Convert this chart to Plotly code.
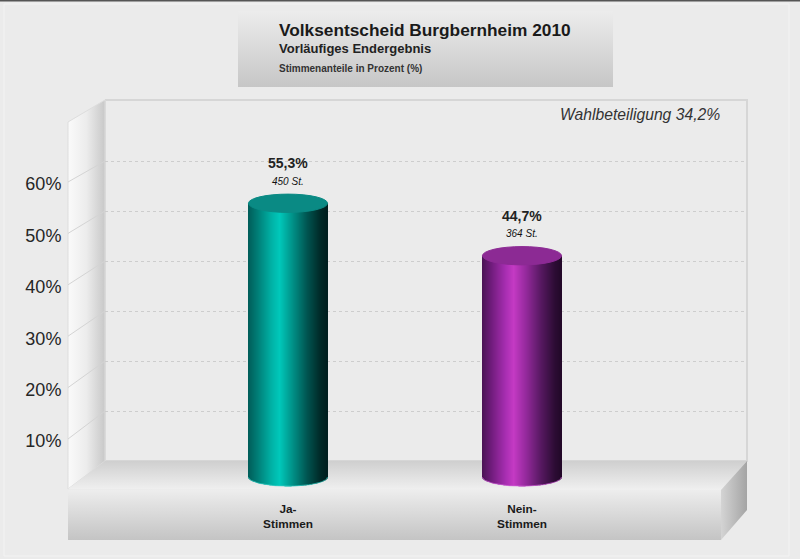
import math
import plotly.graph_objects as go

# data
kategorien = ['Ja-<br>Stimmen', 'Nein-<br>Stimmen']
anteile = [55.3, 44.7]
stimmen = ['450 St.', '364 St.']
anteil_text = ['55,3%', '44,7%']
achse_werte = [10, 20, 30, 40, 50, 60]
achse_text = ['10%', '20%', '30%', '40%', '50%', '60%']

FONT = 'Liberation Sans, Arial, sans-serif'
W, H = 800, 559

# cylinder shading, left to right (position, teal, purple)
verlauf = [
    (0.00, (0, 92, 88), (74, 20, 84)),
    (0.12, (0, 125, 118), (112, 28, 124)),
    (0.30, (0, 178, 166), (168, 46, 178)),
    (0.40, (0, 200, 186), (196, 58, 196)),
    (0.55, (0, 150, 140), (150, 42, 158)),
    (0.75, (0, 84, 80), (86, 24, 96)),
    (0.92, (0, 40, 38), (44, 12, 52)),
    (1.00, (0, 30, 30), (34, 8, 40)),
]


def farbe(t, idx):
    for (t0, *c0), (t1, *c1) in zip(verlauf, verlauf[1:]):
        if t <= t1:
            f = (t - t0) / (t1 - t0)
            rgb = [round(a + (b - a) * f) for a, b in zip(c0[idx], c1[idx])]
            return f'rgb({rgb[0]},{rgb[1]},{rgb[2]})'
    return f'rgb{verlauf[-1][idx + 1]}'


def flaeche(fig, xs, ys, richtung, skala, linie='rgba(0,0,0,0)'):
    fig.add_trace(go.Scatter(
        x=xs, y=ys, mode='lines', fill='toself',
        fillgradient=dict(type=richtung, colorscale=skala),
        line=dict(color=linie, width=1),
        hoverinfo='skip', showlegend=False,
        xaxis='x', yaxis='y'
    ))


fig = go.Figure()

# faint outer frame
fig.add_trace(go.Scatter(
    x=[4, 789, 789, 4, 4], y=[4, 4, 556, 556, 4],
    mode='lines', line=dict(color='#f3f3f3', width=1),
    hoverinfo='skip', showlegend=False, xaxis='x', yaxis='y'
))
# title box
flaeche(fig, [238, 613, 613, 238, 238], [11, 11, 87, 87, 11], 'vertical',
        [[0, '#c6c6c6'], [1, '#ececec']])
# back wall
fig.add_trace(go.Scatter(
    x=[105, 747, 747, 105, 105], y=[100, 100, 461, 461, 100],
    mode='lines', line=dict(color='#d6d6d6', width=2),
    hoverinfo='skip', showlegend=False, xaxis='x', yaxis='y'
))
# side wall
flaeche(fig, [68, 105, 105, 68, 68], [122, 100, 461, 489, 122], 'horizontal',
        [[0, '#fafafa'], [0.5, '#ececec'], [1, '#c8c8c8']], '#dddddd')
# floor
flaeche(fig, [68, 105, 747, 721, 68], [489, 461, 461, 490, 489], 'vertical',
        [[0, '#f0f0f0'], [1, '#cfcfcf']])
# base front and side
flaeche(fig, [68, 721, 721, 68, 68], [490, 490, 540, 540, 490], 'vertical',
        [[0, '#c4c4c4'], [1, '#ededed']])
flaeche(fig, [721, 747, 747, 721, 721], [490, 461, 510, 540, 490], 'horizontal',
        [[0, '#d4d4d4'], [1, '#a4a4a4']])
# diagonals on the side wall
for w in achse_werte:
    y_vorn = 490.4 - w * 5.14
    y_hinten = 461 - w * 5
    fig.add_trace(go.Scatter(
        x=[68, 105], y=[y_vorn, y_hinten], mode='lines',
        line=dict(color='#d4d4d4', width=1),
        hoverinfo='skip', showlegend=False, xaxis='x', yaxis='y'
    ))

# cylinder bodies, built from thin bars so the shading follows the value axis
BREITE = 0.338
RY = 1.85
N = 79
for i in range(N):
    t = (i + 0.5) / N
    unten = RY * math.sqrt(max(0, 1 - (2 * t - 1) ** 2))
    fig.add_trace(go.Bar(
        x=[0, 1],
        y=[a + unten for a in anteile],
        base=[-unten, -unten],
        width=BREITE / N * 1.15,
        offset=-BREITE / 2 + i * BREITE / N,
        marker=dict(color=[farbe(t, 0), farbe(t, 1)], line=dict(width=0)),
        hoverinfo='skip', showlegend=False,
        xaxis='x2', yaxis='y3'
    ))

# bright rim under each cylinder
rand = ['#35cfc6', '#d060d8']
for i in range(len(anteile)):
    winkel = [k * math.pi / 40 for k in range(41)]
    fig.add_trace(go.Scatter(
        x=[i + BREITE / 2 * math.cos(k) for k in winkel],
        y=[-RY * math.sin(k) for k in winkel],
        mode='lines', line=dict(color=rand[i], width=1), opacity=0.7,
        hoverinfo='skip', showlegend=False, xaxis='x2', yaxis='y3'
    ))

# invisible trace that carries the tick labels for the categories
fig.add_trace(go.Scatter(
    x=[0, 1], y=anteile, mode='markers', marker=dict(opacity=0),
    hoverinfo='skip', showlegend=False, xaxis='x2', yaxis='y2'
))

# texts in the title box and turnout
texte = [
    ('<b>Volksentscheid Burgbernheim 2010</b>', 277, 30, 17.3, '#1a1a1a'),
    ('<b>Vorläufiges Endergebnis</b>', 277, 48, 13, '#222222'),
    ('<b>Stimmenanteile in Prozent (%)</b>', 277, 68, 10, '#333333'),
    ('<i>Wahlbeteiligung 34,2%</i>', 558, 114, 15.7, '#333333'),
]
for text, x, y, size, col in texte:
    fig.add_annotation(
        xref='x', yref='y', x=x, y=y, xanchor='left', yanchor='middle',
        text=text, showarrow=False, font=dict(family=FONT, size=size, color=col)
    )

fig.update_layout(
    width=W, height=H,
    margin=dict(l=0, r=0, t=0, b=0),
    paper_bgcolor='#ebebeb',
    plot_bgcolor='rgba(0,0,0,0)',
    barmode='overlay',
    showlegend=False,
    # pixel canvas for the chart frame
    xaxis=dict(range=[0, W], domain=[0, 1], visible=False, fixedrange=True),
    yaxis=dict(range=[H, 0], domain=[0, 1], visible=False, fixedrange=True),
    # categories
    xaxis2=dict(
        domain=[105 / W, 745 / W], range=[-0.782, 1.953],
        anchor='free', position=1 - 500 / H,
        tickmode='array', tickvals=[0, 1], ticktext=kategorien,
        tickfont=dict(family=FONT, size=11.8, color='#1a1a1a', weight='bold'),
        ticks='', showgrid=False, zeroline=False, showline=False, fixedrange=True
    ),
    # back wall grid, 5 px per percent with zero at y=461
    yaxis2=dict(
        domain=[0, 1], range=[(461 - H) / 5, 461 / 5], anchor='x2',
        tickmode='array', tickvals=achse_werte, showticklabels=False, ticks='',
        showgrid=True, gridcolor='#cdcdcd', griddash='dot', gridwidth=1,
        zeroline=False, showline=False, fixedrange=True
    ),
    # bars, 4.95 px per percent with zero at y=477
    yaxis3=dict(
        domain=[0, 1], range=[(477 - H) / 4.95, 477 / 4.95], anchor='x2',
        overlaying='y2', visible=False, fixedrange=True
    ),
    # front value labels, 5.14 px per percent with zero at y=492.4
    yaxis4=dict(
        domain=[0, 1], range=[(492.4 - H) / 5.14, 492.4 / 5.14],
        anchor='free', position=68 / W, overlaying='y2', side='left',
        tickmode='array', tickvals=achse_werte, ticktext=achse_text,
        tickfont=dict(family=FONT, size=18, color='#262626'),
        ticks='outside', ticklen=3, tickcolor='rgba(0,0,0,0)',
        showgrid=False, zeroline=False, showline=False, fixedrange=True
    ),
)

fig.add_shape(type='line', xref='paper', yref='paper', x0=0, x1=1, y0=1, y1=1,
              line=dict(color='#555555', width=3))

# cylinder tops and value labels
deckel = ['#0a8a84', '#8c2a94']
for i, a in enumerate(anteile):
    fig.add_shape(
        type='circle', xref='x2', yref='y3',
        x0=i - BREITE / 2, x1=i + BREITE / 2, y0=a - RY, y1=a + RY,
        fillcolor=deckel[i], line=dict(color=deckel[i], width=1), layer='above'
    )
    fig.add_annotation(
        xref='x2', yref='y3', x=i, y=a, yshift=40, text=f'<b>{anteil_text[i]}</b>',
        showarrow=False, font=dict(family=FONT, size=14, color='#222222')
    )
    fig.add_annotation(
        xref='x2', yref='y3', x=i, y=a, yshift=22, text=f'<i>{stimmen[i]}</i>',
        showarrow=False, font=dict(family=FONT, size=10, color='#111111')
    )

# empty trace so the front value axis is drawn
fig.add_trace(go.Scatter(
    x=[0, 1], y=anteile, mode='markers', marker=dict(opacity=0),
    hoverinfo='skip', showlegend=False, xaxis='x2', yaxis='y4'
))

fig.write_html('out.html', config=dict(displayModeBar=False),
               post_script="document.body.style.margin='0';document.documentElement.style.overflow='hidden';")
